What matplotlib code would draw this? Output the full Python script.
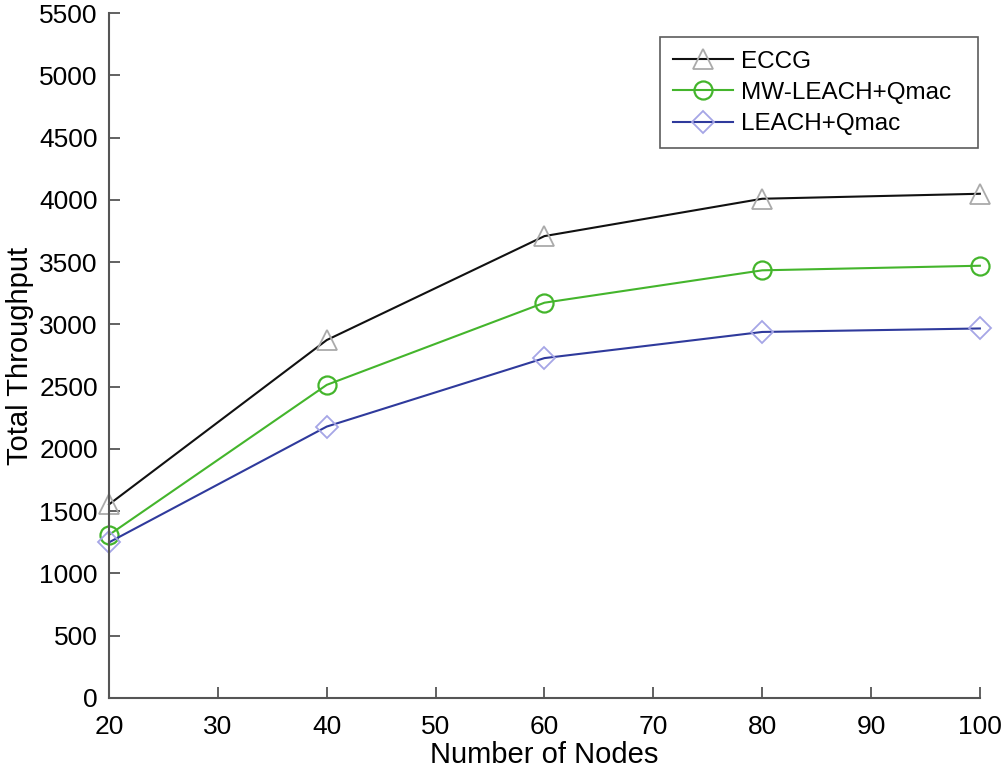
import matplotlib
matplotlib.use("Agg")
import matplotlib.pyplot as plt

nodes = [20, 40, 60, 80, 100]
eccg = [1555, 2875, 3710, 4010, 4050]
mw_leach = [1310, 2515, 3175, 3435, 3472]
leach = [1250, 2180, 2730, 2940, 2968]
xticks = [20, 30, 40, 50, 60, 70, 80, 90, 100]
yticks = list(range(0, 5501, 500))

plt.rcParams['font.family'] = ['Liberation Sans', 'DejaVu Sans']

fig = plt.figure(figsize=(10.05, 7.79), dpi=100)
ax = fig.add_axes([0.1085, 0.104, 0.8665, 0.879])

ax.plot(nodes, eccg, color='#111111', lw=1.5, marker='^', ms=14, mfc='none',
        mec='#aaaaaa', mew=1.3, label='ECCG', clip_on=False)
ax.plot(nodes, mw_leach, color='#44b52c', lw=1.5, marker='o', ms=13, mfc='none',
        mec='#44b52c', mew=1.6, label='MW-LEACH+Qmac', clip_on=False)
ax.plot(nodes, leach, color='#2f3a9c', lw=1.5, marker='D', ms=11, mfc='none',
        mec='#a6a6e6', mew=1.3, label='LEACH+Qmac', clip_on=False)

ax.set_xlim(20, 100)
ax.set_ylim(0, 5500)
ax.set_xticks(xticks)
ax.set_yticks(yticks)
for s in ['top', 'right']:
    ax.spines[s].set_visible(False)
for s in ['left', 'bottom']:
    ax.spines[s].set_color('#555555')
    ax.spines[s].set_linewidth(1.5)
ax.tick_params(direction='in', length=8, width=1.3, color='#555555',
               labelsize=19)
ax.tick_params(axis='x', pad=12)
ax.tick_params(axis='y', pad=8)
ax.set_xlabel('Number of Nodes', fontsize=21, labelpad=2)
ax.set_ylabel('Total Throughput', fontsize=21, labelpad=4)

leg = ax.legend(loc='upper left', bbox_to_anchor=(0.6326, 0.965, 0.365, 0.0),
                mode='expand', fontsize=17.5,
                frameon=True, fancybox=False, edgecolor='#333333',
                handlelength=2.45, handletextpad=0.33, borderpad=0.55,
                labelspacing=0.38, borderaxespad=0)
leg.get_frame().set_linewidth(1.2)

fig.savefig('out.png', dpi=100)
